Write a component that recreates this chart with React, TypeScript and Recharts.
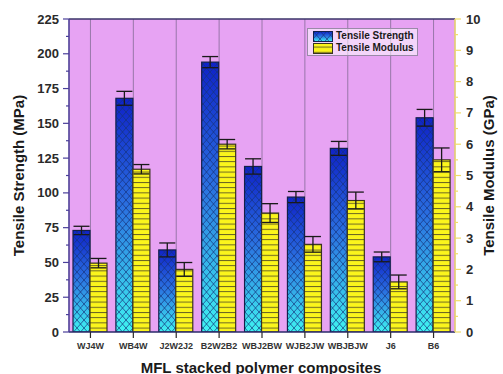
import React from 'react';
import { BarChart, Bar, XAxis, YAxis, CartesianGrid, ErrorBar, Label, ReferenceLine } from 'recharts';

const composites = ['WJ4W', 'WB4W', 'J2W2J2', 'B2W2B2', 'WBJ2BW', 'WJB2JW', 'WBJBJW', 'J6', 'B6'];
const tensileStrength = [73, 168, 59, 194, 119, 97, 132, 54, 154];
const strengthError = [3, 5, 5, 4, 5.5, 4, 5, 3.5, 6];
const tensileModulus = [2.2, 5.2, 2.0, 6.0, 3.8, 2.8, 4.2, 1.6, 5.5];
const modulusError = [0.15, 0.15, 0.22, 0.15, 0.3, 0.25, 0.27, 0.22, 0.38];
const strengthTicks = [0, 12.5, 25, 37.5, 50, 62.5, 75, 87.5, 100, 112.5, 125, 137.5, 150, 162.5, 175, 187.5, 200, 212.5, 225];
const modulusTicks = [0, 0.5, 1, 1.5, 2, 2.5, 3, 3.5, 4, 4.5, 5, 5.5, 6, 6.5, 7, 7.5, 8, 8.5, 9, 9.5, 10];

const chartData = composites.map((name, i) => ({
  name,
  ts: tensileStrength[i],
  tsErr: strengthError[i],
  tm: tensileModulus[i],
  tmErr: modulusError[i],
}));

const FONT = 'Arial, "Liberation Sans", Helvetica, sans-serif';
const TICK_SIZE = 6;
const TICK_MARGIN = 3;

// blue bar: gradient + crosshatch overlay
const StrengthBar = (props: any) => {
  const { x, y, width, height } = props;
  if (!height || height <= 0) return null;
  return (
    <g>
      <rect x={x} y={y} width={width} height={height} fill="url(#blueGrad)" />
      <rect x={x} y={y} width={width} height={height} fill="url(#crossHatch)" stroke="#14204a" strokeWidth={1.2} />
    </g>
  );
};

const ModulusBar = (props: any) => {
  const { x, y, width, height } = props;
  if (!height || height <= 0) return null;
  return (
    <g>
      <rect x={x} y={y} width={width} height={height} fill="#fbf51c" />
      <rect x={x} y={y} width={width} height={height} fill="url(#hLines)" stroke="#3a3420" strokeWidth={1.2} />
    </g>
  );
};

const LeftTick = (props: any) => {
  const { x, y, payload } = props;
  const axisX = x + TICK_SIZE + TICK_MARGIN;
  const major = payload.value % 25 === 0;
  return (
    <g>
      <line x1={axisX} x2={axisX - (major ? TICK_SIZE : 3)} y1={y} y2={y} stroke="#4a3f9a" strokeWidth={1.2} />
      {major && (
        <text x={x - 1} y={y} dy={4.5} textAnchor="end" fontSize={13} fontWeight="bold" fill="#2a2a2a" fontFamily={FONT}>
          {payload.value}
        </text>
      )}
    </g>
  );
};

const RightTick = (props: any) => {
  const { x, y, payload } = props;
  const axisX = x - TICK_SIZE - TICK_MARGIN;
  const major = Number.isInteger(payload.value);
  return (
    <g>
      <line x1={axisX} x2={axisX + (major ? TICK_SIZE : 3)} y1={y} y2={y} stroke="#f0dc6a" strokeWidth={1.2} />
      {major && (
        <text x={x + 2} y={y} dy={4.5} textAnchor="start" fontSize={13} fontWeight="bold" fill="#2a2a2a" fontFamily={FONT}>
          {payload.value}
        </text>
      )}
    </g>
  );
};

const LegendBox = () => (
  <div
    style={{
      position: 'absolute',
      left: 307,
      top: 28,
      width: 109,
      height: 26,
      border: '1px solid #9a8aa8',
      background: 'rgba(255,255,255,0.55)',
      fontFamily: FONT,
      fontSize: 10,
      fontWeight: 'bold',
      color: '#1a1a1a',
    }}
  >
    <svg width={20} height={24} style={{ position: 'absolute', left: 5, top: 2 }}>
      <rect x={0.5} y={0.5} width={19} height={10} fill="url(#blueGrad)" />
      <rect x={0.5} y={0.5} width={19} height={10} fill="url(#crossHatch)" stroke="#14204a" />
      <rect x={0.5} y={12.5} width={19} height={10} fill="#fbf51c" />
      <rect x={0.5} y={12.5} width={19} height={10} fill="url(#hLines)" stroke="#3a3420" />
    </svg>
    <div style={{ position: 'absolute', left: 28, top: 1, lineHeight: '12px' }}>Tensile Strength</div>
    <div style={{ position: 'absolute', left: 28, top: 13, lineHeight: '12px' }}>Tensile Modulus</div>
  </div>
);

const LeftTitle = (props: any) => {
  const vb = props.viewBox || { x: 0, y: 19, width: 69, height: 313 };
  const cx = 18;
  const cy = vb.y + vb.height / 2;
  return (
    <text x={cx} y={cy} transform={`rotate(-90, ${cx}, ${cy})`} textAnchor="middle" dominantBaseline="central"
      fontSize={15} fontWeight="bold" fill="#1a1a1a" fontFamily={FONT}>
      Tensile Strength (MPa)
    </text>
  );
};

const RightTitle = (props: any) => {
  const vb = props.viewBox || { x: 455, y: 19, width: 48, height: 313 };
  const cx = 488;
  const cy = vb.y + vb.height / 2;
  return (
    <text x={cx} y={cy} transform={`rotate(-90, ${cx}, ${cy})`} textAnchor="middle" dominantBaseline="central"
      fontSize={15} fontWeight="bold" fill="#1a1a1a" fontFamily={FONT}>
      Tensile Modulus (GPa)
    </text>
  );
};

const BottomTitle = (props: any) => {
  const vb = props.viewBox || { x: 69, y: 332, width: 386, height: 42 };
  return (
    <text x={vb.x + vb.width / 2 - 1} y={367} textAnchor="middle" dominantBaseline="central"
      fontSize={15} fontWeight="bold" fill="#1a1a1a" fontFamily={FONT}>
      MFL stacked polymer composites
    </text>
  );
};

export default function App() {
  return (
    <div style={{ position: 'absolute', left: 0, top: 0, width: 503, height: 374, background: '#fff' }}>
      <svg width={0} height={0} style={{ position: 'absolute' }}>
        <defs>
          <linearGradient id="blueGrad" x1="0" y1="0" x2="0" y2="1">
            <stop offset="0%" stopColor="#0f22c8" />
            <stop offset="45%" stopColor="#2a6ee0" />
            <stop offset="100%" stopColor="#3ff4f2" />
          </linearGradient>
          <pattern id="crossHatch" width={7} height={8} patternUnits="userSpaceOnUse">
            <line x1={0} y1={0} x2={7} y2={8} stroke="#14307a" strokeOpacity={0.7} strokeWidth={1} />
            <line x1={7} y1={0} x2={0} y2={8} stroke="#14307a" strokeOpacity={0.7} strokeWidth={1} />
          </pattern>
          <pattern id="hLines" width={10} height={5.2} patternUnits="userSpaceOnUse">
            <line x1={0} y1={0.5} x2={10} y2={0.5} stroke="#5a5424" strokeWidth={0.9} />
          </pattern>
        </defs>
      </svg>
      <BarChart
        width={503}
        height={374}
        data={chartData}
        margin={{ top: 19, right: 0, left: 0, bottom: 0 }}
        barSize={17}
        barGap={0}
      >
        <CartesianGrid horizontal={false} vertical stroke="#8e72a0" strokeWidth={0.9} fill="#e7a3f3" />
        <XAxis
          dataKey="name"
          height={42}
          tickSize={TICK_SIZE}
          tickMargin={5}
          axisLine={{ stroke: '#2a2a6a', strokeWidth: 1.4 }}
          tickLine={{ stroke: '#2a2a2a', strokeWidth: 1.2 }}
          tick={{ fontSize: 9, fontWeight: 'bold', fill: '#333', fontFamily: FONT }}
          interval={0}
        >
          <Label content={BottomTitle} />
        </XAxis>
        <YAxis
          yAxisId="left"
          width={69}
          domain={[0, 225]}
          ticks={strengthTicks}
          interval={0}
          tickSize={TICK_SIZE}
          tickMargin={TICK_MARGIN}
          tickLine={false}
          tick={LeftTick}
          axisLine={{ stroke: '#4a3f9a', strokeWidth: 1.4 }}
          allowDataOverflow
        >
          <Label content={LeftTitle} />
        </YAxis>
        <YAxis
          yAxisId="right"
          orientation="right"
          width={48}
          domain={[0, 10]}
          ticks={modulusTicks}
          interval={0}
          tickSize={TICK_SIZE}
          tickMargin={TICK_MARGIN}
          tickLine={false}
          tick={RightTick}
          axisLine={{ stroke: '#f2de6c', strokeWidth: 1.4 }}
          allowDataOverflow
        >
          <Label content={RightTitle} />
        </YAxis>
        <ReferenceLine yAxisId="left" y={225} stroke="#3a3468" strokeWidth={1.4} />
        <Bar yAxisId="left" dataKey="ts" name="Tensile Strength" shape={StrengthBar} isAnimationActive={false}>
          <ErrorBar dataKey="tsErr" width={8} stroke="#1a1a1a" strokeWidth={1.3} />
        </Bar>
        <Bar yAxisId="right" dataKey="tm" name="Tensile Modulus" shape={ModulusBar} isAnimationActive={false}>
          <ErrorBar dataKey="tmErr" width={8} stroke="#1a1a1a" strokeWidth={1.3} />
        </Bar>
      </BarChart>
      <LegendBox />
    </div>
  );
}
